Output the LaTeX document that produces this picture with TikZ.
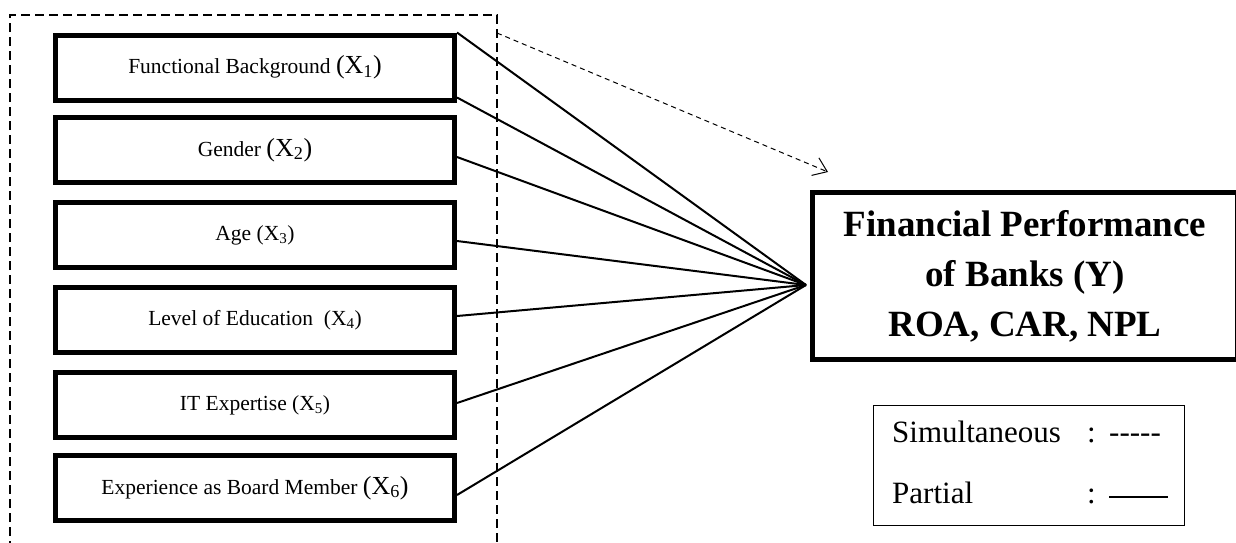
\documentclass[tikz,border=0pt]{standalone}
\usepackage{fontspec}
\setmainfont{Liberation Serif}
\usetikzlibrary{arrows.meta}
\newcommand{\bigx}[1]{{\fontsize{26}{26}\selectfont(X\textsubscript{#1})}}
\newcommand{\smx}[1]{(X\textsubscript{#1})}
\begin{document}
\begin{tikzpicture}[x=1pt,y=-1pt,
	varbox/.style={draw, line width=5pt, minimum width=399pt, minimum height=65pt, inner sep=0pt, font=\fontsize{21.5}{25}\selectfont},
	partial/.style={line width=2pt},
	simul/.style={line width=1pt, dash pattern=on 5pt off 4pt, -{Straight Barb[length=13pt,width=19pt]}},
	legtext/.style={anchor=base west, inner sep=0pt, font=\fontsize{31}{36}\selectfont}]
	\useasboundingbox (0,0) rectangle (1236,542);
	%frame
	\draw[line width=2pt, dash pattern=on 9pt off 5pt] (10,550) |- (497,15) -- (497,550);
	%variables
	\foreach \i/\yc/\txt in {1/67.5/{Functional Background \bigx{1}},
		2/150/{Gender \bigx{2}},
		3/235/{Age \smx{3}},
		4/320/{Level of Education~ \smx{4}},
		5/405/{IT Expertise \smx{5}},
		6/488/{Experience as Board Member \bigx{6}}}
	\node[varbox] (b\i) at (255,\yc) {\txt};
	%dependent
	\node[draw, line width=5pt, minimum width=425pt, minimum height=167pt, align=center,
		font=\bfseries\fontsize{37}{50}\selectfont] (fin) at (1025,276)
		{Financial Performance\\of Banks (Y)\\ROA, CAR, NPL};
	\coordinate (hub) at ([yshift=-9pt, xshift=-4pt]fin.west);
	%partial lines
	\draw[partial] (b1.north east) -- (hub);
	\draw[partial] ([yshift=5pt]b1.south east) -- (hub);
	\foreach \b/\s in {b2/-7,b3/-6,b4/4,b5/2,b6/-7}
	\draw[partial] ([yshift=\s pt]\b.east) -- (hub);
	%simultaneous
	\coordinate (simstart) at (497,33);
	\coordinate (simend) at (828,172);
	\draw[simul] (simstart) -- (simend);
	%legend
	\node[draw, line width=1pt, minimum width=311pt, minimum height=120pt] (leg) at (1029,465.5) {};
	\node[legtext] (sim) at (892,442) {Simultaneous};
	\node[legtext] (simc) at (1087,442) {:};
	\node[legtext] (simd) at (1109,442) {-\kern0pt-\kern0pt-\kern0pt-\kern0pt-};
	\node[legtext] (par) at (892,503) {Partial};
	\node[legtext] (parc) at (1087,503) {:};
	\draw[line width=2pt] (1109,497) -- (1168,497);
\end{tikzpicture}
\end{document}
